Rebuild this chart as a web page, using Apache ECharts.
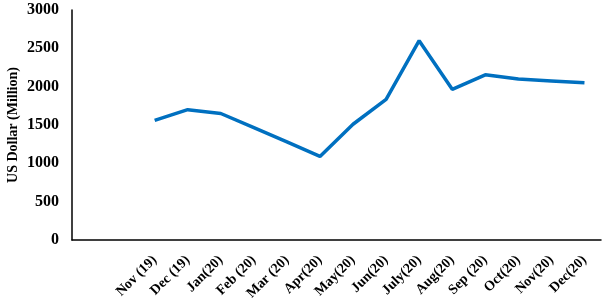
<!DOCTYPE html>
<html>
<head>
<meta charset="utf-8">
<script src="https://cdn.jsdelivr.net/npm/echarts@6/dist/echarts.min.js"></script>
<style>html,body{margin:0;padding:0;background:#fff}#c{width:611px;height:307px}</style>
</head>
<body>
<div id="c"></div>
<script>
const categories = ['', '', 'Nov (19)', 'Dec (19)', 'Jan(20)', 'Feb (20)', 'Mar (20)', 'Apr(20)', 'May(20)', 'Jun(20)', 'July(20)', 'Aug(20)', 'Sep (20)', 'Oct(20)', 'Nov(20)', 'Dec(20)'];
const values = [null, null, 1560, 1700, 1650, 1465, 1280, 1090, 1510, 1835, 2600, 1965, 2155, 2100, 2075, 2050];
const yTicks = { min: 0, max: 3000, interval: 500 };

const chart = echarts.init(document.getElementById('c'));
chart.setOption({
  animation: false,
  grid: { left: 72, right: 10, top: 10, bottom: 67, containLabel: false, outerBoundsMode: 'none' },
  xAxis: {
    type: 'category',
    data: categories,
    boundaryGap: true,
    axisLine: { lineStyle: { color: '#000', width: 1.5 } },
    axisTick: { show: false },
    axisLabel: {
      interval: 0, rotate: 45, margin: 18,
      fontFamily: 'Liberation Serif', fontWeight: 'bold', fontSize: 14, color: '#000'
    }
  },
  yAxis: {
    type: 'value',
    min: yTicks.min, max: yTicks.max, interval: yTicks.interval,
    name: 'US Dollar (Million)',
    nameLocation: 'middle',
    nameGap: 52,
    nameMoveOverlap: false,
    nameTextStyle: { fontFamily: 'Liberation Serif', fontWeight: 'bold', fontSize: 14, color: '#000' },
    axisLine: { show: true, lineStyle: { color: '#000', width: 1.5 } },
    axisTick: { show: false },
    splitLine: { show: false },
    axisLabel: { margin: 13, fontFamily: 'Liberation Serif', fontWeight: 'bold', fontSize: 16, color: '#000',
      formatter: v => String(v) }
  },
  series: [{
    type: 'line',
    data: values,
    symbol: 'none',
    connectNulls: false,
    lineStyle: { color: '#0070C0', width: 3.5 }
  }]
});
</script>
</body>
</html>
